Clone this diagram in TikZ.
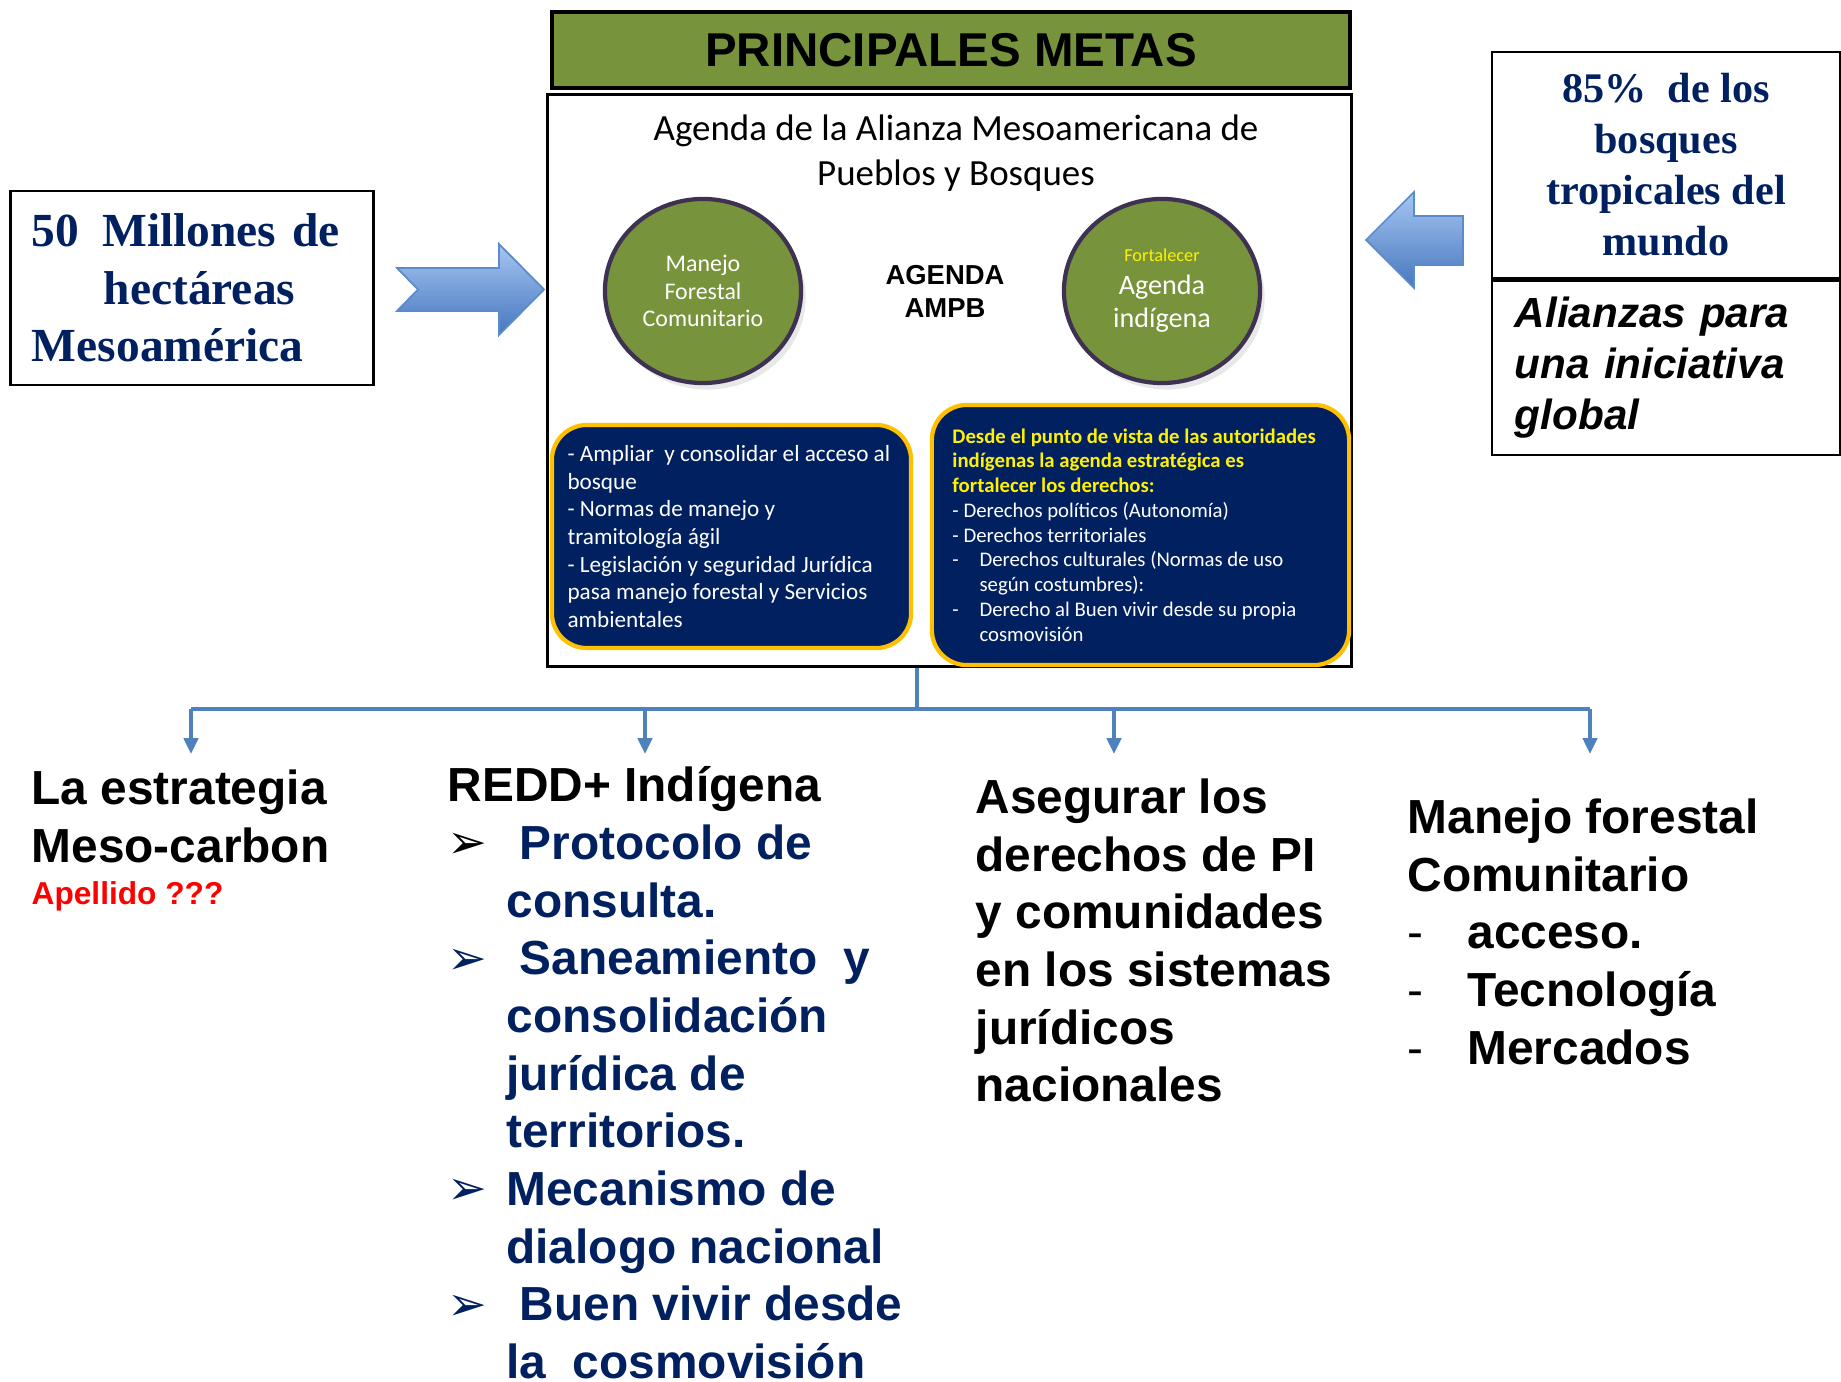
\documentclass[tikz,border=0pt]{standalone}
\usepackage{fontspec}
\setmainfont{Liberation Sans}
\newfontfamily\timesfont{Liberation Serif}
\newfontfamily\calfont{Carlito}
\newfontfamily\dingfont{DejaVu Sans}
\usetikzlibrary{shapes.geometric,arrows.meta,positioning,shadows}
\definecolor{metagreen}{HTML}{77933C}
\definecolor{deepnavy}{HTML}{002060}
\definecolor{goldline}{HTML}{FFC000}
\definecolor{treeblue}{HTML}{4F81BD}
\definecolor{ringdark}{HTML}{3F3151}
\definecolor{arrowlight}{HTML}{A6C6F2}
\definecolor{arrowdark}{HTML}{4677BE}
\definecolor{arrowedge}{HTML}{5B8BCB}
\newcommand{\bigtxt}{\fontsize{13.6}{16.4}\selectfont\bfseries}
\newcommand{\arrowbul}{\makebox[16.7pt][l]{\raisebox{0.2pt}{\dingfont\fontsize{13.5}{13.5}\selectfont ➢}}}
\newcommand{\dashbul}{\makebox[17pt][l]{\mdseries -}}

\begin{document}
\begin{tikzpicture}[x=0.01cm,y=-0.01cm,
    goalbox/.style={draw,line width=0.8pt,inner sep=0},
    ring/.style={ellipse,fill=metagreen,draw=ringdark,line width=1.2pt,minimum width=1.96cm,minimum height=1.84cm,inner sep=0,text=white,align=center,drop shadow={opacity=0.18,shadow xshift=0.25ex,shadow yshift=-0.35ex}},
    navybox/.style={rectangle,rounded corners=0.35cm,fill=deepnavy,draw=goldline,line width=1.2pt,inner sep=0},
    coltext/.style={anchor=north west,align=left,inner sep=0,font=\bigtxt},
    tree/.style={draw=treeblue,line width=1.1pt},
    blockarrow/.style={top color=arrowlight,bottom color=arrowdark,draw=arrowedge,line width=0.5pt}]
            \useasboundingbox (0,0) rectangle (1841,1382);
            \node[goalbox,fill=metagreen,line width=1.2pt,minimum width=7.98cm,minimum height=0.76cm,font=\fontsize{13.5}{16}\selectfont\bfseries] (metas) at (951,50) {PRINCIPALES METAS};
            \node[goalbox,minimum width=8.03cm,minimum height=5.71cm] (agenda) at (949.5,380.5) {};
            \node[font=\calfont\fontsize{10.5}{12.7}\selectfont,align=center] (agtitle) at (956,153) {Agenda de la Alianza Mesoamericana de\\Pueblos y Bosques};
            \node[ring,font=\calfont\fontsize{6.8}{7.9}\selectfont] (mfc) at (703,291) {Manejo\\Forestal\\Comunitario};
            \node[ring,font=\calfont\fontsize{8}{9.4}\selectfont] (indig) at (1162,291) {\textcolor{yellow}{\fontsize{5.2}{6.5}\selectfont Fortalecer}\\Agenda\\indígena};
            \node[font=\fontsize{7.8}{9.4}\selectfont\bfseries,align=center] (ampb) at (945,291) {AGENDA\\AMPB};
            \node[navybox,minimum width=3.59cm,minimum height=2.23cm] (mfcbox) at (731.5,536.5) {};
            \node[anchor=west,align=left,inner sep=0,text=white,font=\calfont\fontsize{6.6}{7.85}\selectfont] (mfctxt) at ([xshift=0.17cm]mfcbox.west) {- Ampliar\ \ y consolidar el acceso al\\bosque\\- Normas de manejo y\\tramitología ágil\\- Legislación y seguridad Jurídica\\pasa manejo forestal y Servicios\\ambientales};
            \node[navybox,minimum width=4.17cm,minimum height=2.60cm] (indbox) at (1140.5,535) {};
            \node[anchor=west,align=left,inner sep=0,text=white,font=\calfont\fontsize{5.9}{7.05}\selectfont] (indtxt) at ([xshift=0.22cm]indbox.west) {\textcolor{yellow}{\bfseries Desde el punto de vista de las autoridades}\\\textcolor{yellow}{\bfseries indígenas la agenda estratégica es}\\\textcolor{yellow}{\bfseries fortalecer los derechos:}\\- Derechos políticos (Autonomía)\\- Derechos territoriales\\\makebox[7.7pt][l]{-}Derechos culturales (Normas de uso\\\hspace*{7.7pt}según costumbres):\\\makebox[7.7pt][l]{-}Derecho al Buen vivir desde su propia\\\hspace*{7.7pt}cosmovisión};
            \node[goalbox,text width=3.2cm,inner xsep=0.21cm,minimum height=1.94cm,align=left,text=deepnavy,font=\timesfont\fontsize{13.5}{16.4}\selectfont\bfseries] (hect) at (192,288) {50\hspace{6.5pt}Millones de\\\hspace*{20.4pt}hectáreas\\Mesoamérica};
            \node[goalbox,minimum width=3.48cm,minimum height=2.26cm,align=center,text=deepnavy,font=\timesfont\fontsize{12}{14.5}\selectfont\bfseries] (bosq) at (1666,165) {85\%\ \ de los\\bosques\\tropicales del\\mundo};
            \node[goalbox,below=0pt of bosq,text width=3.02cm,inner xsep=0.23cm,minimum height=1.74cm,align=left,font=\fontsize{12}{14.5}\selectfont\bfseries\itshape] (alian) {Alianzas para\\una iniciativa\\global};
            \shadedraw[blockarrow] (397,268) -- (499,268) -- (499,244) -- (544,289.5) -- (499,335) -- (499,311) -- (397,311) -- (418,289.5) -- cycle;
            \shadedraw[blockarrow] (1463,216) -- (1414,216) -- (1414,192) -- (1366,240) -- (1414,288) -- (1414,265) -- (1463,265) -- cycle;
            \coordinate (hub) at (917,709);
            \draw[tree] (agenda.south -| hub) -- (hub);
            \foreach \k/\xx in {1/191,2/645,3/1114,4/1590} {
                \coordinate (top\k) at (\xx,709);
                \coordinate (tip\k) at (\xx,754);
            }
            \draw[tree] (top1) -- (top4);
            \foreach \k in {1,...,4}
                \draw[tree,-{Triangle[width=4pt,length=4.5pt]}] (top\k) -- (tip\k);
            \node[coltext] (meso) at (31,769) {La estrategia\\Meso-carbon};
            \node[coltext,text=red,font=\fontsize{9}{11}\selectfont\bfseries] (apell) at (31,881) {Apellido ???};
            \node[coltext,text=deepnavy] (redd) at (447,766) {\textcolor{black}{REDD+ Indígena}\\
                \textcolor{black}{\arrowbul} Protocolo de\\\hspace*{16.7pt}consulta.\\
                \arrowbul{} Saneamiento\ \ y\\\hspace*{16.7pt}consolidación\\\hspace*{16.7pt}jurídica de\\\hspace*{16.7pt}territorios.\\
                \arrowbul Mecanismo de\\\hspace*{16.7pt}dialogo nacional\\
                \arrowbul{} Buen vivir desde\\\hspace*{16.7pt}la\ \ cosmovisión};
            \node[coltext] (asegurar) at (975,778) {Asegurar los\\derechos de PI\\y comunidades\\en los sistemas\\jurídicos\\nacionales};
            \node[coltext] (manejo) at (1407,798) {Manejo forestal\\Comunitario\\\dashbul acceso.\\\dashbul Tecnología\\\dashbul Mercados};
        \end{tikzpicture}
\end{document}
